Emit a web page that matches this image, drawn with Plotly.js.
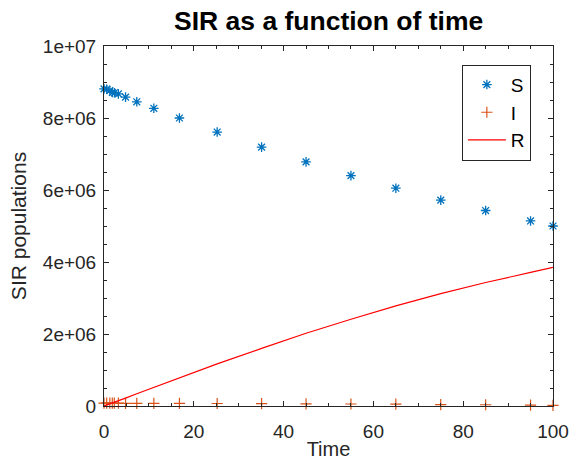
<!DOCTYPE html>
<html>
<head>
<meta charset="utf-8">
<script src="https://cdn.plot.ly/plotly-3.0.1.min.js"></script>
<style>html,body{margin:0;padding:0;background:#fff;}#chart{width:570px;height:460px;}</style>
</head>
<body>
<div id="chart"></div>
<script>
const timePoints = [0, 0.6, 1.3, 1.85, 2.3, 3.2, 4.8, 7.3, 11.1, 16.8, 25.2, 35.1, 45, 55, 65, 75, 85, 95, 100];
const susceptible = [8.81e6, 8.80e6, 8.76e6, 8.71e6, 8.70e6, 8.67e6, 8.58e6, 8.45e6, 8.27e6, 8.00e6, 7.61e6, 7.19e6, 6.78e6, 6.40e6, 6.05e6, 5.72e6, 5.43e6, 5.14e6, 5.00e6];
const infected = [0.08e6, 0.08e6, 0.08e6, 0.08e6, 0.08e6, 0.08e6, 0.075e6, 0.075e6, 0.075e6, 0.075e6, 0.07e6, 0.065e6, 0.06e6, 0.055e6, 0.05e6, 0.04e6, 0.035e6, 0.025e6, 0.02e6];
const recovered = [0, 0.03e6, 0.06e6, 0.09e6, 0.11e6, 0.15e6, 0.22e6, 0.34e6, 0.52e6, 0.79e6, 1.17e6, 1.60e6, 2.02e6, 2.41e6, 2.78e6, 3.12e6, 3.43e6, 3.71e6, 3.85e6];
const yTickVals = [0, 2e6, 4e6, 6e6, 8e6, 1e7];
const yTickText = ["0", "2e+06", "4e+06", "6e+06", "8e+06", "1e+07"];
const xTickVals = [0, 20, 40, 60, 80, 100];

const axisColor = '#262626';
const fontFam = 'Liberation Sans, Arial, Helvetica, sans-serif';

const traces = [
  {x: timePoints, y: susceptible, name: 'S', type: 'scatter', mode: 'markers', cliponaxis: false,
   marker: {symbol: 'asterisk-open', size: 8, color: '#0072BD', line: {color: '#0072BD', width: 1.3}}},
  {x: timePoints, y: infected, name: 'I', type: 'scatter', mode: 'markers', cliponaxis: false,
   marker: {symbol: 'cross-thin-open', size: 8, color: '#D95319', line: {color: '#D95319', width: 1.2}}},
  {x: timePoints, y: recovered, name: 'R', type: 'scatter', mode: 'lines', cliponaxis: false,
   line: {color: '#FF0000', width: 1.2}}
];

const axisCommon = {
  showline: true, linecolor: axisColor, linewidth: 1, mirror: 'ticks',
  ticks: 'inside', ticklen: 5, tickwidth: 1, tickcolor: axisColor,
  showgrid: false, zeroline: false,
  tickfont: {family: fontFam, size: 19, color: axisColor}
};

const layout = {
  width: 570, height: 460,
  margin: {l: 104, r: 17, t: 46, b: 54},
  paper_bgcolor: '#fff', plot_bgcolor: '#fff',
  font: {family: fontFam, color: axisColor},
  title: {text: '<b>SIR as a function of time</b>', font: {family: fontFam, size: 26.5, color: '#000'},
          x: 0.5765, xanchor: 'center', y: 0.975, yanchor: 'top'},
  xaxis: Object.assign({}, axisCommon, {
    range: [0, 100], tickvals: xTickVals, ticktext: xTickVals.map(String),
    ticklabelstandoff: 8,
    minor: {dtick: 5, ticks: 'inside', ticklen: 3, tickcolor: axisColor},
    title: {text: 'Time', font: {family: fontFam, size: 20, color: axisColor}, standoff: 7}
  }),
  yaxis: Object.assign({}, axisCommon, {
    range: [0, 1e7], tickvals: yTickVals, ticktext: yTickText,
    ticklabelstandoff: 3,
    minor: {dtick: 5e5, ticks: 'inside', ticklen: 3, tickcolor: axisColor},
    title: {text: 'SIR populations', font: {family: fontFam, size: 21, color: axisColor}, standoff: 10}
  }),
  legend: {x: 0.797, y: 0.948, xanchor: 'left', yanchor: 'top',
           bordercolor: axisColor, borderwidth: 1, bgcolor: '#fff',
           font: {family: fontFam, size: 19, color: '#000'}, tracegroupgap: 0, itemwidth: 38},
  showlegend: true
};

Plotly.newPlot('chart', traces, layout, {displayModeBar: false, staticPlot: true});
</script>
</body>
</html>
